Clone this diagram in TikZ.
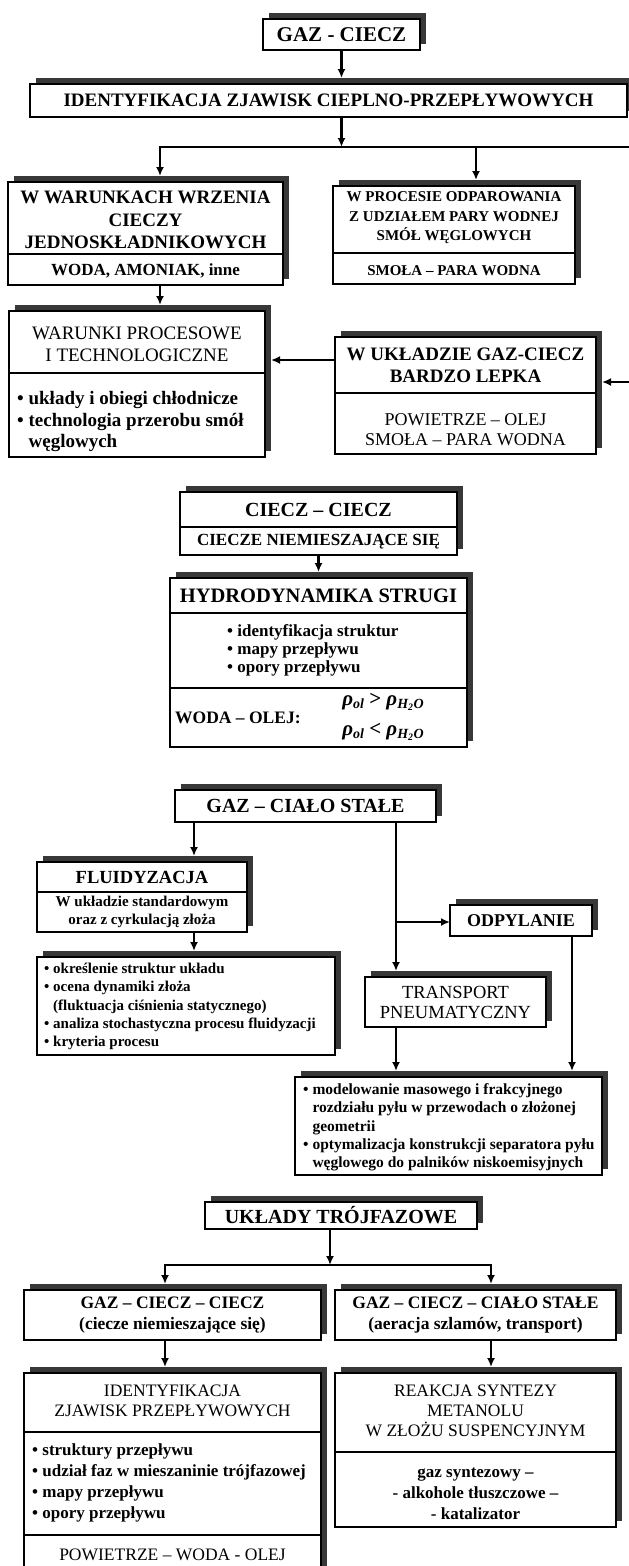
\documentclass[tikz,border=0pt]{standalone}
\usepackage{fontspec}
\setmainfont{Liberation Serif}
\usetikzlibrary{calc,arrows.meta,shadows}

\tikzset{
  panel/.style={draw, line width=2.2pt, fill=white, inner sep=0pt, outer sep=0pt,
    drop shadow={shadow xshift=6pt, shadow yshift=6pt, opacity=1, fill=black!78}},
  cutline/.style={line width=1.8pt},
  conn/.style={line width=2.1pt, line cap=rect},
  arr/.style={conn, -{Latex[length=9pt,width=8pt]}},
  arrsh/.style={arr, shorten >=6pt},
  bf/.style n args={2}{inner sep=0pt, align=center, font=\fontsize{#1}{#2}\selectfont\bfseries},
  rm/.style n args={2}{inner sep=0pt, align=center, font=\fontsize{#1}{#2}\selectfont},
}
% box with shadow: name, x1, y1, x2, y2 (pixels, y down)
\newcommand\shpanel[5]{%
  \node[panel, minimum width={(#4-#2)*1pt}, minimum height={(#5-#3)*1pt}] (#1) at ({(#2+#4)/2},{(#3+#5)/2}) {};}
% horizontal divider inside a box
\newcommand\cutpanel[2]{%
  \coordinate (cut) at (0,#2);
  \draw[cutline] (#1.west |- cut) -- (#1.east |- cut);}
% density symbol with subscript
\newcommand\rhosub[1]{\textit{ρ}\raisebox{-0.35ex}{\fontsize{14}{14}\selectfont\textit{#1}}}
\def\drawarr{\draw[arr]}
\def\drawarrsh{\draw[arrsh]}

\begin{document}
\begin{tikzpicture}[x=1pt,y=-1pt]
\useasboundingbox (0,0) rectangle (629,1566);
\fill[white] (0,0) rectangle (629,1566);
\clip (0,0) rectangle (629,1566);

% ---------- GAZ - CIECZ
\shpanel{gc}{263}{19}{420}{50}
\node[bf={21}{24}] (gcT) at (gc) {GAZ - CIECZ};
\shpanel{ident}{30}{84}{627}{117}
\node[bf={19}{22}] (identT) at (ident) {IDENTYFIKACJA ZJAWISK CIEPLNO-PRZEPŁYWOWYCH};
\drawarrsh (gc.south) -- (gc.south |- ident.north);

\coordinate (fork) at (341.5,147);
\coordinate (forkL) at (160,147);
\coordinate (forkR) at (476,147);
\coordinate (forkE) at (640,147);
\drawarr (fork |- ident.south) -- (fork);

% boiling / evaporation
\shpanel{wrz}{8}{182}{283}{285}
\cutpanel{wrz}{254}
\node[bf={19}{22.5}] (wrzT) at (145.5,220) {W WARUNKACH WRZENIA\\CIECZY\\JEDNOSKŁADNIKOWYCH};
\node[bf={17}{20}] (wrzB) at (145.5,271) {WODA, AMONIAK, inne};

\shpanel{odp}{333}{186}{575}{284}
\cutpanel{odp}{253}
\node[bf={15}{19.5}] (odpT) at (454,218) {W PROCESIE ODPAROWANIA\\Z UDZIAŁEM PARY WODNEJ\\SMÓŁ WĘGLOWYCH};
\node[bf={15}{19}] (odpB) at (454,271) {SMOŁA – PARA WODNA};

\drawarrsh (forkE) -- (forkL) -- (forkL |- wrz.north);
\drawarrsh (forkR) -- (forkR |- odp.north);

% process conditions / viscous liquid
\shpanel{war}{9}{311}{265}{457}
\cutpanel{war}{373}
\node[rm={19}{22}] (warT) at (137,344) {WARUNKI PROCESOWE\\I TECHNOLOGICZNE};
\node[bf={19}{21.5}, align=left, anchor=west] (warB) at (17,421.5)
  {• układy i obiegi chłodnicze\\• technologia przerobu smół\\\phantom{• }węglowych};

\shpanel{lep}{335}{337}{596}{454}
\cutpanel{lep}{393}
\node[bf={19}{22}] (lepT) at (465.5,365) {W UKŁADZIE GAZ-CIECZ\\BARDZO LEPKA};
\node[rm={18}{20}] (lepB) at (465.5,430) {POWIETRZE – OLEJ\\SMOŁA – PARA WODNA};

\drawarrsh (forkL |- wrz.south) -- (forkL |- war.north);
\coordinate (lepL) at (300,360);
\drawarrsh (lepL -| lep.west) -- (lepL -| war.east);
\coordinate (lepIn) at (640,382);
\drawarrsh (lepIn) -- (lepIn -| lep.east);

% ---------- CIECZ - CIECZ
\shpanel{cc}{180}{492}{457}{555}
\cutpanel{cc}{527}
\node[bf={20}{22}] (ccT) at (318.5,510) {CIECZ – CIECZ};
\node[bf={17}{20}] (ccB) at (318.5,542) {CIECZE NIEMIESZAJĄCE SIĘ};

\shpanel{hyd}{170}{578}{467}{747}
\cutpanel{hyd}{613}
\cutpanel{hyd}{688}
\node[bf={20.5}{22}] (hydT) at (318.5,596) {HYDRODYNAMIKA STRUGI};
\node[bf={17}{18}, align=left, anchor=west] (hydB) at (227,650)
  {• identyfikacja struktur\\• mapy przepływu\\• opory przepływu};
\node[bf={17.5}{20}, anchor=west] (hydW) at (175,718) {WODA – OLEJ:};
\node[bf={21}{22}] (rhoA) at (383,702) {\rhosub{ol} \textgreater{} \rhosub{H\textsubscript{2}O}};
\node[bf={21}{22}] (rhoB) at (383,732) {\rhosub{ol} \textless{} \rhosub{H\textsubscript{2}O}};
\drawarrsh (cc.south) -- (cc.south |- hyd.north);

% ---------- GAZ - CIALO STALE
\shpanel{gcs}{175}{790}{436}{822}
\node[bf={20}{22}] (gcsT) at (gcs) {GAZ – CIAŁO STAŁE};

\shpanel{flu}{37}{862}{247}{932}
\cutpanel{flu}{892}
\node[bf={18.5}{20}] (fluT) at (142,877) {FLUIDYZACJA};
\node[bf={15}{18}] (fluS) at (142,912) {W układzie standardowym\\oraz z cyrkulacją złoża};
\shpanel{fluB}{37}{957}{335}{1055}
\node[bf={15}{18.3}, align=left, anchor=west] (fluBT) at (44,1006.5)
  {• określenie struktur układu\\• ocena dynamiki złoża\\\phantom{• }(fluktuacja ciśnienia statycznego)\\• analiza stochastyczna procesu fluidyzacji\\• kryteria procesu};
\coordinate (fluX) at (194,0);
\drawarrsh (fluX |- gcs.south) -- (fluX |- flu.north);
\drawarrsh (fluX |- flu.south) -- (fluX |- fluB.north);

\shpanel{ody}{450}{905}{592}{936}
\node[bf={18}{20}] (odyT) at (ody) {ODPYLANIE};
\shpanel{tra}{365}{977}{546}{1027}
\node[rm={18.5}{20}] (traT) at (tra) {TRANSPORT\\PNEUMATYCZNY};
\shpanel{sep}{295}{1077}{602}{1175}
\node[bf={15.5}{18.3}, align=left, anchor=west] (sepT) at (303,1127.5)
  {• modelowanie masowego i frakcyjnego\\\phantom{• }rozdziału pyłu w przewodach o złożonej\\\phantom{• }geometrii\\• optymalizacja konstrukcji separatora pyłu\\\phantom{• }węglowego do palników niskoemisyjnych};

\coordinate (traX) at (396,922);
\coordinate (odyX) at (572,0);
\drawarrsh (traX |- gcs.south) -- (traX |- tra.north);
\drawarr (traX) -- (traX -| ody.west);
\drawarrsh (traX |- tra.south) -- (traX |- sep.north);
\drawarrsh (odyX |- ody.south) -- (odyX |- sep.north);

% ---------- UKLADY TROJFAZOWE
\shpanel{tri}{205}{1202}{477}{1229}
\node[bf={20}{22}] (triT) at (tri) {UKŁADY TRÓJFAZOWE};
\coordinate (triF) at (330,1265);
\coordinate (triL) at (165,1265);
\coordinate (triR) at (491,1265);
\drawarr (triF |- tri.south) -- (triF);

\shpanel{gcc}{24}{1290}{321}{1340}
\node[bf={17.5}{21}] (gccT) at (gcc) {GAZ – CIECZ – CIECZ\\(ciecze niemieszające się)};
\shpanel{gct}{335}{1290}{616}{1340}
\node[bf={17.5}{21}] (gctT) at (gct) {GAZ – CIECZ – CIAŁO STAŁE\\(aeracja szlamów, transport)};
\drawarrsh (triR) -- (triL) -- (triL |- gcc.north);
\drawarrsh (triR) -- (triR |- gct.north);

\shpanel{idz}{24}{1373}{321}{1600}
\cutpanel{idz}{1432}
\cutpanel{idz}{1535}
\node[rm={17.5}{20}] (idzT) at (172.5,1401) {IDENTYFIKACJA\\ZJAWISK PRZEPŁYWOWYCH};
\node[bf={17}{21}, align=left, anchor=west] (idzB) at (32,1483)
  {• struktury przepływu\\• udział faz w mieszaninie trójfazowej\\• mapy przepływu\\• opory przepływu};
\node[rm={17.5}{20}] (idzC) at (172.5,1555) {POWIETRZE – WODA - OLEJ};

\shpanel{rea}{335}{1373}{616}{1527}
\cutpanel{rea}{1452}
\node[rm={17.5}{20}] (reaT) at (475.5,1411) {REAKCJA SYNTEZY\\METANOLU\\W ZŁOŻU SUSPENCYJNYM};
\node[bf={17}{21}] (reaB) at (475.5,1494) {gaz syntezowy –\\- alkohole tłuszczowe –\\- katalizator};

\drawarrsh (triL |- gcc.south) -- (triL |- idz.north);
\drawarrsh (triR |- gct.south) -- (triR |- rea.north);
\end{tikzpicture}
\end{document}
